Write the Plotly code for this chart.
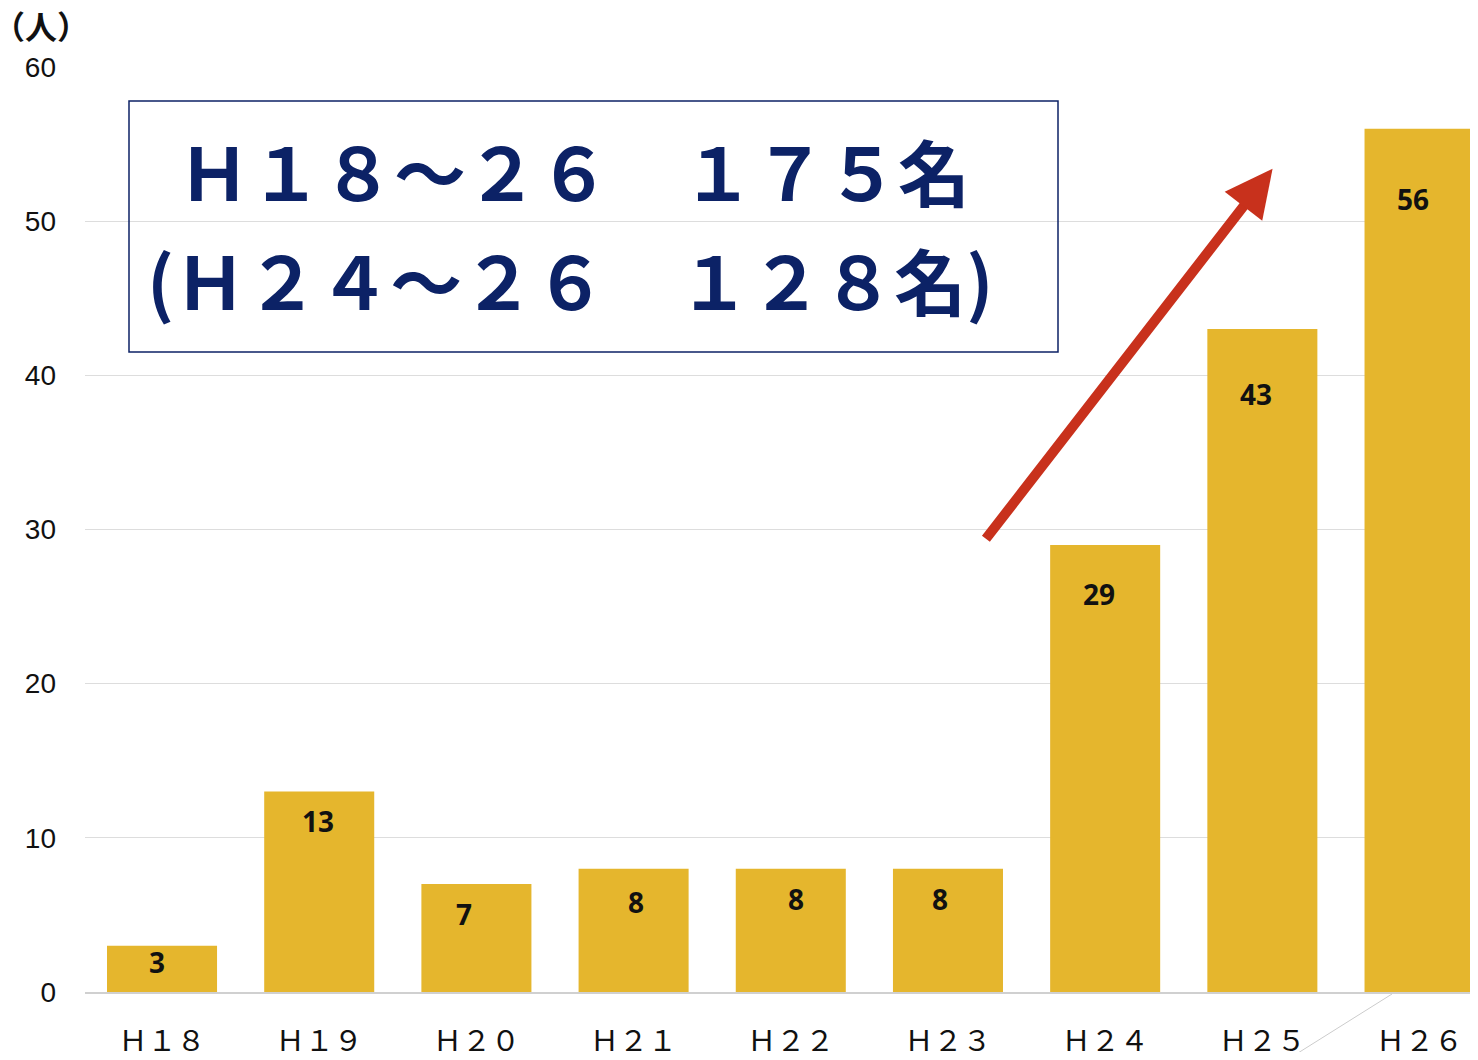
import plotly.graph_objects as go

# ---- data ----
categories = ["Ｈ１８", "Ｈ１９", "Ｈ２０", "Ｈ２１", "Ｈ２２", "Ｈ２３", "Ｈ２４", "Ｈ２５", "Ｈ２６"]
values = [3, 13, 7, 8, 8, 8, 29, 43, 56]
y_ticks = [0, 10, 20, 30, 40, 50, 60]
unit_label = "（人）"
box_line1 = "Ｈ１８～２６　１７５名"
box_line2 = "(Ｈ２４～２６　１２８名)"

# ---- style (label offsets in px) ----
label_dx = [-5, -1, -12, 2, 5, -8, -6, -6, -7]
label_dy = [-16, -29, -30, -33, -30, -30, -49, -65, -70]

BAR = "#E5B62D"
NAVY = "#0C2266"

fig = go.Figure()
fig.add_trace(go.Bar(
    x=list(range(len(categories))), y=values, width=0.7,
    marker=dict(color=BAR, line=dict(width=0)),
    hoverinfo="skip",
))

for i, v in enumerate(values):
    fig.add_annotation(
        x=i, y=v, xref="x", yref="y", text=str(v), showarrow=False,
        xshift=label_dx[i], yshift=label_dy[i],
        font=dict(family="Noto Sans", size=28, color="#111111", weight=700),
        xanchor="center", yanchor="middle",
    )

# arrow
fig.add_annotation(
    x=7.065, y=53.4, ax=5.234, ay=29.3, xref="x", yref="y", axref="x", ayref="y",
    showarrow=True, arrowhead=2, arrowsize=0.95, arrowwidth=10, arrowcolor="#C8311C",
    text="",
)

# plot area is 1385 px wide x 925 px tall
PW, PH = 1385.0, 925.0

def px_x(p):  # page x (reference) -> paper
    return (p - 85) / PW

def px_y(p):  # page y (reference) -> paper
    return (992 - p) / PH

# unit label
fig.add_annotation(
    x=px_x(41), y=px_y(25), xref="paper", yref="paper", text=unit_label, showarrow=False,
    xanchor="center", yanchor="middle",
    font=dict(family="Noto Sans CJK JP", size=32, color="#111111", weight=700),
)

# text box
fig.add_shape(type="rect", xref="paper", yref="paper",
              x0=px_x(129), x1=px_x(1058), y0=px_y(352), y1=px_y(101),
              line=dict(color=NAVY, width=1.5), fillcolor="rgba(0,0,0,0)", layer="above")
fig.add_annotation(
    x=px_x(574), y=px_y(169.5), xref="paper", yref="paper", text=box_line1, showarrow=False,
    xanchor="center", yanchor="middle",
    font=dict(family="Noto Sans CJK JP", size=72, color=NAVY, weight=700),
)
fig.add_annotation(
    x=px_x(570), y=px_y(278), xref="paper", yref="paper", text=box_line2, showarrow=False,
    xanchor="center", yanchor="middle",
    font=dict(family="Noto Sans CJK JP", size=72, color=NAVY, weight=700),
)

# faint leader line near bottom right
fig.add_shape(type="line", xref="paper", yref="paper",
              x0=px_x(1392), y0=px_y(994), x1=px_x(1290), y1=px_y(1058),
              line=dict(color="#CCCCCC", width=1))

fig.update_layout(
    width=1462, height=1044,
    margin=dict(l=77, r=0, t=59, b=60, autoexpand=False),
    paper_bgcolor="white", plot_bgcolor="white",
    showlegend=False,
    bargap=0.3,
)
fig.update_xaxes(
    range=[-0.49, 8.321], automargin=False,
    tickmode="array", tickvals=list(range(len(categories))), ticktext=categories,
    tickfont=dict(family="Noto Sans CJK JP", size=29, color="#111111"),
    showgrid=False, showline=True, linecolor="#D0D0D0", linewidth=2,
    ticks="", ticklabelstandoff=22, zeroline=False,
)
fig.update_yaxes(
    range=[0, 60], tickvals=y_ticks, automargin=False,
    tickfont=dict(family="Liberation Sans", size=28, color="#111111"),
    showgrid=True, gridcolor="#DDDDDD", gridwidth=1,
    zeroline=False, showline=False, ticks="", ticklabelstandoff=28,
)

fig.write_html("out.html")
